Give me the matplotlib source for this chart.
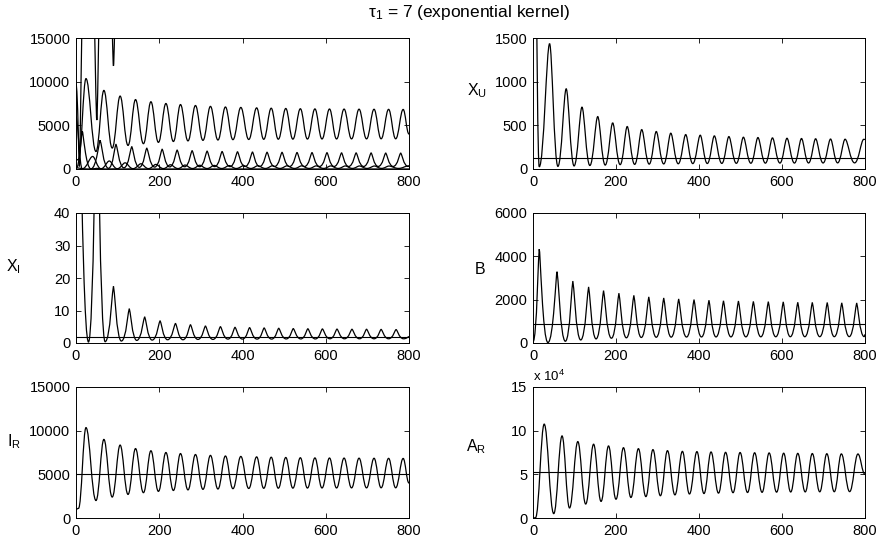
import matplotlib

matplotlib.use("Agg")
import matplotlib.pyplot as plt
from matplotlib.path import Path
from matplotlib.patches import PathPatch
from matplotlib.ticker import FuncFormatter

plt.rcParams["font.family"] = ["Liberation Sans", "DejaVu Sans"]
plt.rcParams["mathtext.default"] = "regular"

# --- data (turning points of each trajectory) ---
# I_R (also drawn in the top-left panel)
ir_t = [0, 6, 24, 48, 67, 87, 106, 125, 143, 162, 180, 198, 216, 234, 251, 269,
        287, 305, 323, 341, 359, 377, 396, 415, 434, 451, 469, 486, 504, 521,
        539, 556, 574, 591, 609, 626, 644, 662, 680, 698, 716, 733, 751, 768,
        786, 800]
ir_v = [1000, 1100, 10350, 2000, 9000, 2400, 8350, 2700, 7950, 2900, 7700, 3050,
        7500, 3150, 7380, 3220, 7270, 3280, 7170, 3320, 7100, 3360, 7050, 3380,
        7000, 3400, 6960, 3410, 6930, 3420, 6900, 3430, 6880, 3440, 6870, 3440,
        6860, 3450, 6850, 3450, 6840, 3460, 6830, 3460, 6820, 4000]
ir_ss = 5000

# A_R
ar_t = [0, 6, 27, 50, 70, 88, 108, 127, 146, 164, 182, 200, 218, 236, 254, 272,
        289, 307, 324, 342, 360, 377, 395, 412, 429, 447, 464, 482, 499, 517,
        534, 552, 569, 587, 604, 621, 638, 656, 673, 691, 708, 726, 743, 763,
        783, 800]
ar_v = [0, 300, 107500, 5000, 94000, 11500, 87500, 16000, 84500, 19000, 82500,
        21500, 80500, 23500, 79400, 24500, 78300, 25500, 77100, 26500, 76300,
        27500, 76000, 28000, 75600, 28500, 75200, 29000, 75000, 29200, 74700,
        29400, 74500, 29600, 74200, 29800, 74000, 29900, 73800, 30000, 73600,
        30100, 73400, 30200, 73300, 50000]
ar_ss = 52500

# X_U
xu_t = [0, 15, 40, 60, 80, 99, 118, 137, 156, 174, 192, 210, 227, 245, 262, 280,
        297, 315, 332, 350, 368, 385, 403, 420, 437, 455, 472, 490, 507, 525,
        542, 560, 577, 595, 612, 630, 647, 664, 681, 699, 717, 734, 752, 775,
        797, 800]
xu_v = [6000, 25, 1435, 30, 918, 35, 708, 40, 600, 45, 528, 50, 486, 53, 451, 56,
        429, 58, 410, 60, 394, 62, 387, 63, 379, 64, 371, 65, 364, 66, 360, 67,
        356, 68, 352, 68, 349, 69, 346, 69, 343, 70, 341, 70, 340, 338]
xu_ss = 125

# X_I
xi_t = [0, 30, 50, 70, 90, 109, 128, 146, 165, 183, 202, 220,
        239, 257, 275, 293, 311, 329, 347, 365, 382, 400, 417, 435, 452, 470,
        487, 505, 522, 540, 557, 575, 592, 610, 627, 645, 663, 681, 698, 716,
        733, 751, 769, 787, 800]
xi_v = [150, 0.3, 80, 0.4, 17.5, 0.6, 10.6, 0.8, 8.1, 0.9, 6.9, 1.0,
        6.1, 1.0, 5.7, 1.1, 5.3, 1.1, 5.1, 1.2, 4.9, 1.2, 4.8, 1.2, 4.7, 1.2,
        4.6, 1.25, 4.5, 1.25, 4.45, 1.25, 4.4, 1.3, 4.35, 1.3, 4.3, 1.3, 4.3,
        1.3, 4.25, 1.3, 4.2, 1.3, 2.0]
xi_ss = 2.0

# B
b_t = [0, 15, 36, 58, 78, 96, 115, 134, 152, 170, 189, 207, 225, 243, 261, 279,
       297, 315, 333, 351, 370, 388, 406, 424, 441, 459, 477, 495, 513, 531,
       549, 567, 585, 603, 620, 638, 655, 673, 691, 709, 726, 744, 762, 780,
       798, 800]
b_v = [50, 4330, 20, 3290, 80, 2860, 140, 2590, 190, 2420, 220, 2300, 240, 2200,
       255, 2130, 265, 2080, 270, 2035, 275, 2005, 278, 1975, 280, 1950, 282,
       1940, 284, 1920, 286, 1910, 288, 1900, 290, 1880, 290, 1875, 292, 1870,
       292, 1855, 294, 1850, 295, 400]
b_ss = 860

# extra compartment in the top-left panel (runs off the top of the axes)
xs_t = [0, 8, 28, 50, 70, 90, 110, 800]
xs_v = [9700, 300, 40000, 5600, 40000, 11800, 40000, 40000]

x_ticks = [0, 200, 400, 600, 800]

W, H = 884, 539
fig = plt.figure(figsize=(W / 100, H / 100), dpi=100)


def px_axes(left, top, right, bottom):
    return fig.add_axes([left / W, 1 - bottom / H, (right - left) / W, (bottom - top) / H])


def style(ax, ymax, yticks):
    ax.set_xlim(0, 800)
    ax.set_ylim(0, ymax)
    ax.set_xticks(x_ticks)
    ax.set_yticks(yticks)
    ax.tick_params(direction="in", top=True, right=True, length=3.5, width=0.6,
                   labelsize=10.5, pad=4)
    for s in ax.spines.values():
        s.set_linewidth(0.7)


def trace(ax, t, v, k_peak=0.38, k_trough=0.42):
    # smooth path through the turning points (flat tangents at each one)
    verts = [(t[0], v[0])]
    codes = [Path.MOVETO]
    for i in range(len(t) - 1):
        t0, v0, t1, v1 = t[i], v[i], t[i + 1], v[i + 1]
        dt = t1 - t0
        k0 = k_peak if v0 > v1 else k_trough
        k1 = k_peak if v1 > v0 else k_trough
        verts += [(t0 + k0 * dt, v0), (t1 - k1 * dt, v1), (t1, v1)]
        codes += [Path.CURVE4] * 3
    ax.add_patch(PathPatch(Path(verts, codes), fill=False, lw=0.9, ec="black"))


cols = [(76, 409), (533, 865)]
rows = [(38, 169), (213, 343), (387, 518)]

# top-left: all compartments together
ax = px_axes(cols[0][0], rows[0][0], cols[0][1], rows[0][1])
trace(ax, xs_t, xs_v, 0.5, 0.15)
trace(ax, ir_t, ir_v)
trace(ax, b_t, b_v, 0.12, 0.6)
trace(ax, xu_t, xu_v, 0.3, 0.45)
trace(ax, xi_t, xi_v, 0.12, 0.6)
style(ax, 15000, [0, 5000, 10000, 15000])

# top-right: X_U
ax = px_axes(cols[1][0], rows[0][0], cols[1][1], rows[0][1])
trace(ax, xu_t, xu_v, 0.3, 0.45)
ax.axhline(xu_ss, color="black", lw=0.8)
style(ax, 1500, [0, 500, 1000, 1500])
fig.text(477 / W, 1 - 91 / H, "$X_U$", fontsize=11.5, ha="center", va="center")

# middle-left: X_I
ax = px_axes(cols[0][0], rows[1][0], cols[0][1], rows[1][1])
trace(ax, xi_t, xi_v, 0.12, 0.6)
ax.axhline(xi_ss, color="black", lw=0.8)
style(ax, 40, [0, 10, 20, 30, 40])
fig.text(13 / W, 1 - 267 / H, "$X_I$", fontsize=11.5, ha="center", va="center")

# middle-right: B
ax = px_axes(cols[1][0], rows[1][0], cols[1][1], rows[1][1])
trace(ax, b_t, b_v, 0.12, 0.6)
ax.axhline(b_ss, color="black", lw=0.8)
style(ax, 6000, [0, 2000, 4000, 6000])
fig.text(480 / W, 1 - 270 / H, "B", fontsize=11.5, ha="center", va="center")

# bottom-left: I_R
ax = px_axes(cols[0][0], rows[2][0], cols[0][1], rows[2][1])
trace(ax, ir_t, ir_v)
ax.axhline(ir_ss, color="black", lw=0.8)
style(ax, 15000, [0, 5000, 10000, 15000])
fig.text(14 / W, 1 - 442 / H, "$I_R$", fontsize=11.5, ha="center", va="center")

# bottom-right: A_R
ax = px_axes(cols[1][0], rows[2][0], cols[1][1], rows[2][1])
trace(ax, ar_t, ar_v)
ax.axhline(ar_ss, color="black", lw=0.8)
style(ax, 150000, [0, 50000, 100000, 150000])
ax.yaxis.set_major_formatter(FuncFormatter(lambda v, p: f"{v / 1e4:g}"))
ax.text(0, 1.025, "x 10$^4$", transform=ax.transAxes, fontsize=9.5,
        ha="left", va="bottom")
fig.text(476 / W, 1 - 447 / H, "$A_R$", fontsize=11.5, ha="center", va="center")

fig.text(469 / W, 1 - 13 / H, r"$\tau_1$ = 7 (exponential kernel)", fontsize=12.5,
         ha="center", va="center")

fig.savefig("out.png", dpi=100)
